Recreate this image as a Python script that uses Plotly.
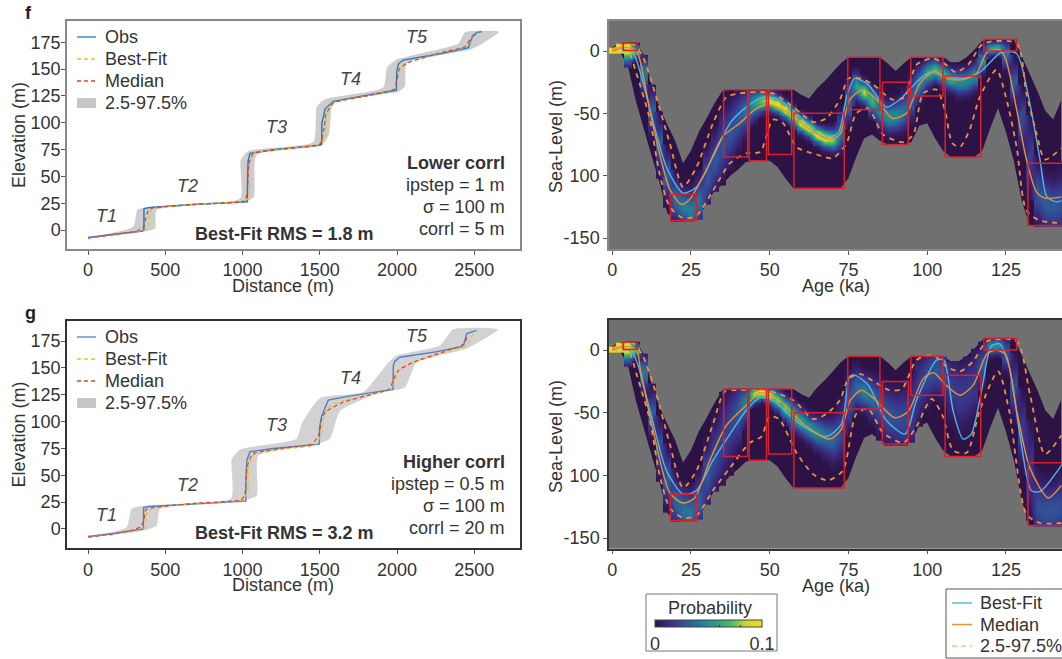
import numpy as np
import plotly.graph_objects as go

W, H = 1062, 659
FONT = "Liberation Sans, Arial, sans-serif"
TXT = "#333333"

# ---------- Left panels: long profile ----------
f_obs_x = [0, 100, 200, 350, 362, 362, 400, 700, 1031, 1033, 1036, 1048, 1200, 1500, 1512, 1514, 1535, 1588, 1700, 1900, 1996, 1998, 2010, 2040, 2300, 2462, 2475, 2490, 2515, 2548]
f_obs_y = [-7, -5, -3.5, -1, 0, 20, 21, 24, 26.4, 50, 64, 71.5, 75, 79, 80, 100, 113, 120, 123, 128, 130.5, 148, 155, 158.5, 165, 170, 176, 180, 184, 185]
f_best_x = [0, 150, 330, 385, 395, 410, 440, 700, 1010, 1040, 1045, 1065, 1300, 1495, 1535, 1545, 1590, 1800, 1980, 2002, 2010, 2045, 2300, 2450, 2480, 2500, 2530]
f_best_y = [-7.5, -4.5, -1, 1, 12, 19, 20.5, 24, 27, 30, 60, 71, 76, 79.5, 85, 112, 119, 125, 131, 135, 150, 155, 166, 171, 178, 182, 184]
f_med_x = [0, 150, 320, 360, 372, 390, 420, 700, 1015, 1030, 1042, 1070, 1300, 1500, 1525, 1540, 1590, 1800, 1980, 2000, 2015, 2070, 2300, 2440, 2475, 2500]
f_med_y = [-7.5, -4.5, -1, 3, 10, 18, 20.5, 24, 27, 34, 62, 71.5, 76, 80, 92, 108, 118.5, 125, 131, 140, 150, 156, 166, 171, 178, 183]
f_env_x = [0, 293, 319, 380, 984, 988, 1038, 1458, 1480, 1534, 1911, 1937, 1998, 2397, 2440, 2656, 2656, 2536, 2472, 2062, 2052, 2009, 1588, 1562, 1512, 1091, 1074, 1027, 444, 434, 358, 0]
f_env_y = [-7, 3, 19, 21, 29.5, 65, 73.7, 82, 115, 122, 133, 152, 159, 174, 184.5, 185, 184, 172.5, 168, 155, 134, 129, 118, 90, 79, 70, 31, 26.4, 18.6, 1.5, -1.5, -8]

g_obs_x = [0, 180, 358, 360, 400, 700, 1021, 1023, 1028, 1048, 1200, 1497, 1499, 1512, 1555, 1700, 1974, 1976, 1985, 2019, 2250, 2429, 2440, 2451, 2515]
g_obs_y = [-7, -4, 0, 20, 21, 23.5, 26, 50, 64, 72, 75, 79, 95, 105, 120, 124, 130, 152, 156, 160, 165, 170, 176, 182, 185]
g_best_x = [0, 150, 340, 372, 382, 440, 700, 1000, 1035, 1040, 1075, 1300, 1470, 1510, 1530, 1580, 1800, 1960, 1995, 2015, 2100, 2300, 2450, 2480, 2500]
g_best_y = [-7.5, -5, -1, 2, 16, 20, 24, 27, 35, 60, 69, 75, 78, 88, 108, 116, 125, 130, 142, 148, 155, 164, 171, 178, 184]
g_med_x = [0, 150, 290, 340, 362, 375, 430, 700, 990, 1015, 1030, 1065, 1300, 1450, 1495, 1515, 1545, 1650, 1850, 1950, 1985, 2010, 2100, 2300, 2430, 2460]
g_med_y = [-7.5, -5, -1, 2, 8, 18, 20, 24, 27, 32, 58, 70, 76, 79, 88, 104, 110, 118, 126, 130, 142, 148, 155, 165, 172, 180]
g_env_x = [0, 250, 283, 380, 926, 930, 984, 1350, 1383, 1502, 1782, 1944, 1998, 2278, 2364, 2656, 2451, 2127, 2052, 1869, 1631, 1566, 1458, 1102, 1092, 1016, 466, 444, 358, 0]
g_env_y = [-7, 1.5, 19, 21.8, 28.6, 65, 74, 84, 98, 122, 127.5, 155, 161.6, 171, 186, 186, 168, 155, 132, 126, 110, 84, 78, 68.5, 31, 27, 18.6, 3, -1.5, -8]

terrace_names = ["T1", "T2", "T3", "T4", "T5"]
terrace_x = [121, 645, 1221, 1696, 2127]
terrace_y = [13, 41, 96.5, 140.8, 180]
f_note = ["<b>Lower corrl</b>", "ipstep = 1 m", "σ = 100 m", "corrl = 5 m"]
g_note = ["<b>Higher corrl</b>", "ipstep = 0.5 m", "σ = 100 m", "corrl = 20 m"]
note_y = [62.5, 42, 21.5, 1]

# ---------- Right panels: curves ----------
f_med_a = [0, 3, 6, 7.7, 8.8, 13, 18.3, 22, 24.6, 30, 35, 40.5, 45.8, 50, 56.4, 61.7, 69, 72.3, 75.4, 79.7, 84, 89, 93.4, 97.7, 102.4, 106, 111.4, 115.7, 119, 123, 125, 128.4, 131.5, 134.7, 137.4, 142.6]
f_med_s = [0, 3, 2, 0, -7, -60, -111, -123, -119, -95, -69, -58, -46, -43, -50, -61, -71, -67, -39, -31, -39, -54, -50, -26, -16, -22, -23, -18, -1, 1, -7, -47, -87, -113, -118, -117]
f_best_a = [0, 3, 6.7, 12, 17.2, 22.5, 26.8, 32, 37.4, 42.6, 48, 53, 59.6, 67, 71.7, 74.4, 77, 81.3, 87, 91.3, 96.6, 100.8, 105.6, 111.4, 116.7, 123.6, 128.4, 132.6, 135.8, 138, 141, 142.6]
f_best_s = [0, 2, -2, -47, -93, -114, -109, -85, -58, -45, -37, -39, -53, -69, -66, -37, -22, -27, -45, -39, -25, -17, -20, -22, -17, -1, -2, -42, -87, -117, -121, -120]
f_up_a = [0, 3, 7, 9.8, 14, 18.3, 22.5, 26.8, 32, 36.3, 40.5, 45.8, 51, 57.5, 63.8, 68, 72.3, 75, 78.6, 82.9, 89, 92.9, 96.6, 101.9, 106, 109, 113, 117.8, 128.4, 131.5, 134.7, 137.4, 142.6]
f_up_s = [1, 5, 5, -5, -37, -74, -109, -93, -58, -37, -34, -33, -34, -45, -57, -54, -39, -22, -22, -27, -39, -37, -11, -6, -11, -17, -11, 6, 6, -34, -66, -87, -78]
f_lo_a = [0, 5, 7.7, 12, 15, 18.3, 22.5, 26.8, 32, 37.4, 42.6, 47, 51, 54.3, 58.5, 65, 70, 74.4, 77.5, 81.3, 86, 92.4, 95.6, 98.7, 103, 105.6, 108, 110.4, 113.5, 116.7, 122, 125, 128.4, 131.5, 135.8, 142.6]
f_lo_s = [0, 0, -18, -55, -98, -125, -134, -132, -112, -90, -82, -81, -55, -58, -77, -83, -86, -74, -50, -46, -67, -73, -67, -34, -31, -47, -74, -77, -63, -37, -15, -37, -77, -128, -136, -138]

g_med_a = [0, 3, 6, 8, 8.8, 13, 18.3, 22.5, 26.2, 31, 36.3, 42.6, 47, 53, 60.6, 69, 72.8, 75.4, 79, 83.3, 89.7, 94, 98.7, 102, 106, 110.4, 114.6, 119, 122, 125, 128.4, 132.6, 138.4, 142.6]
g_med_s = [0, 3, 2, -1, -13, -64, -114, -122, -118, -88, -60, -44, -34, -40, -59, -71, -63, -41, -32, -39, -54, -49, -23, -18, -28, -36, -28, -3, 0, -4, -48, -94, -118, -108]
g_best_a = [0, 3, 6.7, 12, 17.2, 22.5, 26.8, 32, 37.4, 42.6, 47, 51, 59.6, 68, 72.8, 75.4, 77, 81.3, 87, 93, 96.6, 103, 105.3, 108.2, 111.4, 114, 117.3, 120.3, 123, 126, 129.4, 133, 135.8, 142.6]
g_best_s = [0, 2, -3, -48, -96, -115, -112, -88, -67, -48, -38, -40, -59, -69, -59, -21, -20, -28, -56, -67, -40, -8, -8, -48, -71, -67, -32, 3, 5, -13, -67, -112, -113, -92]
g_up_a = [0, 3, 7, 9.8, 14, 18.3, 22.5, 26.8, 32, 35.8, 40.5, 49, 57.5, 63.8, 68, 72.3, 75, 78.6, 83, 88, 92, 96.6, 101.9, 106, 110.4, 114.6, 119, 128.4, 132.6, 137.4, 142.6]
g_up_s = [1, 5, 5, -5, -35, -75, -110, -96, -59, -33, -32, -32, -40, -55, -51, -40, -23, -19, -25, -32, -31, -8, -4, -13, -17, -9, 7, 7, -35, -83, -68]
g_lo_a = [0, 5, 7.7, 12, 15, 18.3, 22.5, 26.8, 32, 37.4, 43.7, 47.4, 50, 53, 58.5, 63.8, 68.6, 73.3, 77.5, 81.3, 86, 92.4, 96.6, 101.4, 105, 108.2, 112.5, 116.7, 122.5, 126, 131.5, 135.8, 142.6]
g_lo_s = [0, 0, -19, -56, -99, -126, -134, -132, -112, -94, -74, -69, -53, -55, -82, -99, -104, -96, -51, -47, -66, -74, -61, -39, -53, -80, -82, -48, -17, -48, -131, -138, -138]

# Age windows (red boxes)
box_a0 = [3.5, 18.5, 35.4, 43.5, 49.6, 57.7, 74.8, 85.8, 94.8, 105.7, 118, 132]
box_a1 = [8, 26.8, 43, 49, 57, 73.7, 85, 94, 105, 117, 128.4, 150]
box_s0 = [0.5, -136, -85, -88, -83, -110, -47, -75, -36, -85, 0, -140]
box_s1 = [6.5, -115, -31, -31, -31, -50, -5, -25, -5, -20, 9.5, -90]

# ---------- Density picture ----------
# The probability raster cannot be read cell by cell. Each 2.5 ka column is
# described by values (envelope, ridge, spread,
# peak), and the cells are an approximate bell-shaped rendering of those.
col_age = [i * 2.5 for i in range(58)]
env_top = [3, 6, 7, 7, -3, -27, -45, -59, -72, -90, -80, -65, -54, -42, -32, -31, -31, -31, -31, -31, -31, -31, -31, -31, -35, -38, -30, -24, -17, -10, -5, -5, -5, -5, -5, -10, -16, -10, -5, -5, -5, -5, -5, -9, -9, -5, 1, 8, 9.5, 9.5, 9.5, 9.5, -4, -18, -32, -48, -55, -40]
env_bot = [-1, -1, -12, -40, -62, -84, -105, -130, -136, -136, -136, -134, -122, -112, -107, -100, -95, -89, -88, -88, -88, -93, -102, -110, -110, -110, -110, -110, -110, -110, -102, -85, -70, -67, -72, -75, -75, -75, -73, -60, -58, -70, -80, -85, -85, -85, -85, -80, -62, -46, -65, -88, -120, -140, -140, -140, -140, -140]
f_ridge = [1, 3, 2.5, 0, -18, -48, -75, -100, -118, -125, -128, -120, -102, -88, -75, -65, -55, -48, -42, -40, -40, -43, -47, -52, -58, -62, -67, -70, -71, -64, -42, -28, -33, -40, -48, -53, -52, -48, -38, -26, -18, -15, -19, -23, -25, -24, -20, -8, 2, 3, -3, -25, -55, -85, -113, -122, -125, -122]
f_spread = [6, 7, 7, 3, 8, 10, 11, 10, 9, 8, 9, 10, 12, 12, 14, 13, 12, 9, 7, 5, 4.5, 4, 4, 4, 4, 4, 4, 4.5, 5, 8, 8, 6, 5, 6, 7, 7, 7, 8, 9, 7, 6, 5, 5, 5, 6, 6, 6, 5, 3, 3, 6, 9, 12, 15, 12, 12, 12, 14]
f_peak = [.1, .1, .1, .07, .04, .03, .03, .035, .04, .045, .045, .04, .03, .03, .028, .028, .03, .04, .055, .075, .09, .1, .1, .1, .1, .1, .1, .095, .08, .04, .04, .06, .085, .07, .05, .05, .05, .04, .035, .05, .06, .07, .07, .06, .05, .05, .05, .05, .06, .06, .04, .03, .025, .02, .03, .03, .03, .025]
g_ridge = [1, 3, 2.5, 0, -18, -50, -78, -102, -120, -128, -130, -120, -100, -85, -72, -60, -50, -42, -35, -33, -36, -40, -46, -52, -57, -62, -66, -69, -71, -64, -42, -30, -33, -38, -45, -52, -55, -55, -50, -30, -20, -15, -18, -30, -36, -33, -26, -12, 3, 4, -3, -30, -65, -95, -125, -128, -128, -125]
g_spread = [6, 7, 7, 3, 8, 10, 11, 11, 10, 10, 10, 11, 13, 15, 17, 17, 14, 8, 4, 3.5, 4, 4.5, 5, 6, 6, 6, 7, 8, 10, 12, 11, 9, 8, 9, 11, 12, 13, 14, 15, 14, 12, 11, 12, 14, 16, 16, 15, 8, 4, 4, 7, 12, 15, 18, 14, 13, 13, 14]
g_peak = [.1, .1, .1, .07, .04, .03, .03, .033, .035, .04, .04, .033, .03, .025, .022, .022, .03, .05, .085, .1, .09, .08, .08, .07, .06, .055, .05, .04, .035, .025, .03, .035, .045, .04, .03, .028, .025, .025, .022, .02, .025, .028, .025, .02, .018, .018, .018, .03, .05, .05, .03, .025, .02, .018, .025, .027, .027, .025]
sl_rows = list(range(-142, 12))
DARK = "#2d1245"
COLORS = [[0, DARK], [.12, "#3a2a80"], [.3, "#2f5a9c"], [.5, "#1f8f93"], [.7, "#45b868"], [.85, "#c8d830"], [1, "#fbd81a"]]
cbar_ticks = [0, .02, .04, .06, .08, .1]
cbar_labels = ["0", "", "", "", "", "0.1"]

legend_f_names = ["Obs", "Best-Fit", "Median", "2.5-97.5%"]
legend_r_names = ["Best-Fit", "Median", "2.5-97.5%"]


def density(ridge, spread, peak):
    y = np.array(sl_rows, float)[:, None]
    r, s, p = np.array(ridge), np.array(spread), np.array(peak)
    z = p * np.exp(-0.5 * ((y - r) / s) ** 2)
    z[(y > np.array(env_top)) | (y < np.array(env_bot)) | (z < 0.0015)] = np.nan
    return z


def dom(a, b, size):
    return [a / size, b / size]


def ydom(top, bottom):
    return [1 - bottom / H, 1 - top / H]


def px(v):
    return v / W


def py(v):
    return 1 - v / H


fig = go.Figure()
C_OBS = ["#1f78c8", "#4a80d0"]
C_YEL = "#e0c820"
C_RED = "#ee3b2e"
for i, (ex, ey, ox, oy, bx, by, mx, my, xa, ya) in enumerate([
    (f_env_x, f_env_y, f_obs_x, f_obs_y, f_best_x, f_best_y, f_med_x, f_med_y, "x", "y"),
    (g_env_x, g_env_y, g_obs_x, g_obs_y, g_best_x, g_best_y, g_med_x, g_med_y, "x2", "y2"),
]):
    fig.add_trace(go.Scatter(x=ex, y=ey, name="2.5-97.5%", mode="lines", fill="toself", fillcolor="#d2d2d2" if i else "#cdcdcd",
                             line=dict(color="rgba(0,0,0,0)", width=0, shape="spline", smoothing=0.5), xaxis=xa, yaxis=ya, showlegend=False))
    fig.add_trace(go.Scatter(x=ox, y=oy, name="Obs", mode="lines", line=dict(color=C_OBS[i], width=1.4), xaxis=xa, yaxis=ya, showlegend=False))
    fig.add_trace(go.Scatter(x=bx, y=by, name="Best-Fit", mode="lines", line=dict(color=C_YEL, width=1.2, dash="4px,3px", shape="spline", smoothing=0.4), xaxis=xa, yaxis=ya, showlegend=False))
    fig.add_trace(go.Scatter(x=mx, y=my, name="Median", mode="lines", line=dict(color=C_RED, width=1.2, dash="4px,3px", shape="spline", smoothing=0.4), xaxis=xa, yaxis=ya, showlegend=False))

C_BEST = "#4fb6e6"
C_MED = "#f0902a"
C_DASH = "#f0913a"
for i, (ridge, spread, peak, ba, bs, ma, ms, ua, us, la, ls, xa, ya) in enumerate([
    (f_ridge, f_spread, f_peak, f_best_a, f_best_s, f_med_a, f_med_s, f_up_a, f_up_s, f_lo_a, f_lo_s, "x3", "y3"),
    (g_ridge, g_spread, g_peak, g_best_a, g_best_s, g_med_a, g_med_s, g_up_a, g_up_s, g_lo_a, g_lo_s, "x4", "y4"),
]):
    hm = dict(x=col_age, y=sl_rows, z=density(ridge, spread, peak), zmin=0, zmax=0.1, colorscale=COLORS,
              zsmooth="best", hoverinfo="skip", xaxis=xa, yaxis=ya, showscale=False)
    if i == 1:
        hm.update(showscale=True, colorbar=dict(
            orientation="h", xanchor="left", x=px(646), yanchor="top", y=py(620),
            lenmode="pixels", len=125, thicknessmode="pixels", thickness=7, xpad=9, ypad=0,
            bgcolor="rgba(0,0,0,0)", borderwidth=0, outlinecolor="#444", outlinewidth=1,
            tickmode="array", tickvals=cbar_ticks, ticktext=cbar_labels, ticks="inside", ticklen=2, tickcolor="#333",
            tickfont=dict(size=18, color=TXT, family=FONT)))
    fig.add_trace(go.Heatmap(**hm))
    fig.add_trace(go.Scatter(x=ba, y=bs, name="Best-Fit", mode="lines", showlegend=False,
                             line=dict(color=C_BEST, width=1.4, shape="spline", smoothing=0.7), xaxis=xa, yaxis=ya))
    fig.add_trace(go.Scatter(x=ma, y=ms, name="Median", mode="lines", showlegend=False,
                             line=dict(color=C_MED, width=1.4, shape="spline", smoothing=0.7), xaxis=xa, yaxis=ya))
    fig.add_trace(go.Scatter(x=ua, y=us, name="2.5-97.5%", mode="lines", showlegend=False,
                             line=dict(color=C_DASH, width=1.8, dash="5px,5px", shape="spline", smoothing=0.7), xaxis=xa, yaxis=ya))
    fig.add_trace(go.Scatter(x=la, y=ls, name="2.5-97.5%", mode="lines", showlegend=False,
                             line=dict(color=C_DASH, width=1.8, dash="5px,5px", shape="spline", smoothing=0.7), xaxis=xa, yaxis=ya))

shapes, annos = [], []


def tnote(text, x, y, size=18, xanchor="center", color=TXT, xref="paper", yref="paper", angle=0):
    annos.append(dict(text=text, x=x, y=y, xref=xref, yref=yref, xanchor=xanchor, yanchor="middle",
                      showarrow=False, textangle=angle, font=dict(size=size, color=color, family=FONT)))


# envelope polygons under the density raster
env_path = "M " + " L ".join(f"{a},{s}" for a, s in zip(col_age + col_age[::-1], env_top + env_bot[::-1])) + " Z"
for xa, ya in [("x3", "y3"), ("x4", "y4")]:
    shapes.append(dict(type="path", path=env_path, xref=xa, yref=ya, fillcolor=DARK, line=dict(width=0), layer="below"))
    for a0, a1, s0, s1 in zip(box_a0, box_a1, box_s0, box_s1):
        shapes.append(dict(type="rect", xref=xa, yref=ya, x0=a0, x1=a1, y0=s0, y1=s1,
                           line=dict(color="#d8202a", width=1.5), layer="above"))

for xa, ya, note, rms in [("x", "y", f_note, "Best-Fit RMS = 1.8 m"), ("x2", "y2", g_note, "Best-Fit RMS = 3.2 m")]:
    for n, tx, ty in zip(terrace_names, terrace_x, terrace_y):
        tnote(f"<i>{n}</i>", tx, ty, color="#444", xref=xa, yref=ya)
    for line, ny in zip(note, note_y):
        tnote(line, 2712, ny, xanchor="right", xref=xa, yref=ya)
    tnote(f"<b>{rms}</b>", 1269, -3.5, xref=xa, yref=ya)

tnote("<b>f</b>", px(28), py(13), color="#222")
tnote("<b>g</b>", px(30), py(313), color="#222")
tnote("Distance (m)", px(283), py(286))
tnote("Distance (m)", px(283), py(585))
tnote("Age (ka)", px(836), py(286))
tnote("Age (ka)", px(836), py(586))
tnote("Sea-Level (m)", px(556), py(137), angle=-90)
tnote("Sea-Level (m)", px(556), py(437), angle=-90)

# hand-placed legends (the spacing of the reference is tighter than a Plotly legend allows)
for top, c_obs in [(37, C_OBS[0]), (337, C_OBS[1])]:
    for j, (name, col, dash) in enumerate(zip(legend_f_names[:3], [c_obs, C_YEL, C_RED], ["solid", "4px,3px", "4px,3px"])):
        yy = py(top + 22 * j)
        shapes.append(dict(type="line", xref="paper", yref="paper", x0=px(77), x1=px(96), y0=yy, y1=yy, line=dict(color=col, width=1.3, dash=dash)))
        tnote(name, px(103), yy, xanchor="left")
    shapes.append(dict(type="rect", xref="paper", yref="paper", x0=px(77), x1=px(96), y0=py(top + 61), y1=py(top + 71), fillcolor="#c6c6c6", line=dict(width=0)))
    tnote(legend_f_names[3], px(103), py(top + 66), xanchor="left")

shapes.append(dict(type="rect", xref="paper", yref="paper", x0=px(946), x1=px(1080), y0=py(589), y1=py(658), line=dict(color="#555555", width=1), fillcolor="white", layer="above"))
for j, (name, col, dash) in enumerate(zip(legend_r_names, [C_BEST, C_MED, "#f7c08a"], ["solid", "solid", "5px,4px"])):
    yy = py(603 + 21.5 * j)
    shapes.append(dict(type="line", xref="paper", yref="paper", x0=px(952), x1=px(972), y0=yy, y1=yy, line=dict(color=col, width=1.4, dash=dash)))
    tnote(name, px(978), yy, xanchor="left")

# colour bar frame and title
shapes.append(dict(type="rect", xref="paper", yref="paper", x0=px(646), x1=px(777), y0=py(594), y1=py(651), line=dict(color="#777777", width=1)))
tnote("Probability", px(710), py(608))


def axis(domain, rng, title, ticks, labels=None, anchor=None, color="#888888", standoff=0):
    d = dict(domain=domain, range=rng, tickmode="array", tickvals=ticks, ticktext=labels if labels else [str(t) for t in ticks],
             tickfont=dict(size=18, color=TXT, family=FONT), ticks="outside", ticklen=4, tickwidth=1, tickcolor="#555",
             showgrid=False, zeroline=False, showline=True, linecolor=color, linewidth=1.5, mirror=True, anchor=anchor)
    if title:
        d["title"] = dict(text=title, standoff=standoff, font=dict(size=18, color=TXT, family=FONT))
    return d


x_left = [0, 500, 1000, 1500, 2000, 2500]
y_left = [0, 25, 50, 75, 100, 125, 150, 175]
x_right = [0, 25, 50, 75, 100, 125]
y_right = [0, -50, -100, -150]
y_right_labels = ["0", "-50", "100", "-150"]

fig.update_layout(
    width=W, height=H, margin=dict(l=0, r=0, t=0, b=0, autoexpand=False),
    paper_bgcolor="white", plot_bgcolor="#707070", font=dict(family=FONT, color=TXT),
    xaxis=axis(dom(67, 520, W), [-136, 2796], None, x_left, anchor="y"),
    yaxis=axis(ydom(21, 249), [-17.7, 194.9], "Elevation (m)", y_left, anchor="x"),
    xaxis2=axis(dom(67, 520, W), [-136, 2796], None, x_left, anchor="y2", color="#333333"),
    yaxis2=axis(ydom(320.7, 548.3), [-18, 194], "Elevation (m)", y_left, anchor="x2", color="#333333"),
    xaxis3=axis(dom(609, W, W), [-1, 142.8], None, x_right, anchor="y3"),
    yaxis3=axis(ydom(20.7, 249), [-158.8, 24.3], None, y_right, y_right_labels, anchor="x3"),
    xaxis4=axis(dom(609, W, W), [-1, 142.8], None, x_right, anchor="y4", color="#333333"),
    yaxis4=axis(ydom(320, 548.7), [-158.5, 24], None, y_right, y_right_labels, anchor="x4", color="#333333"),
    shapes=shapes, annotations=annos, showlegend=False,
)
for name in ("yaxis", "yaxis2"):
    fig.layout[name].ticklabelstandoff = -3

# White background for the two profile plots
fig.add_shape(type="rect", xref="x domain", yref="y domain", x0=0, x1=1, y0=0, y1=1, fillcolor="white", line_width=0, layer="below")
fig.add_shape(type="rect", xref="x2 domain", yref="y2 domain", x0=0, x1=1, y0=0, y1=1, fillcolor="white", line_width=0, layer="below")

fig.write_html("out.html", config={"displayModeBar": False},
               post_script="document.body.style.margin='0';document.body.style.overflow='hidden';")
